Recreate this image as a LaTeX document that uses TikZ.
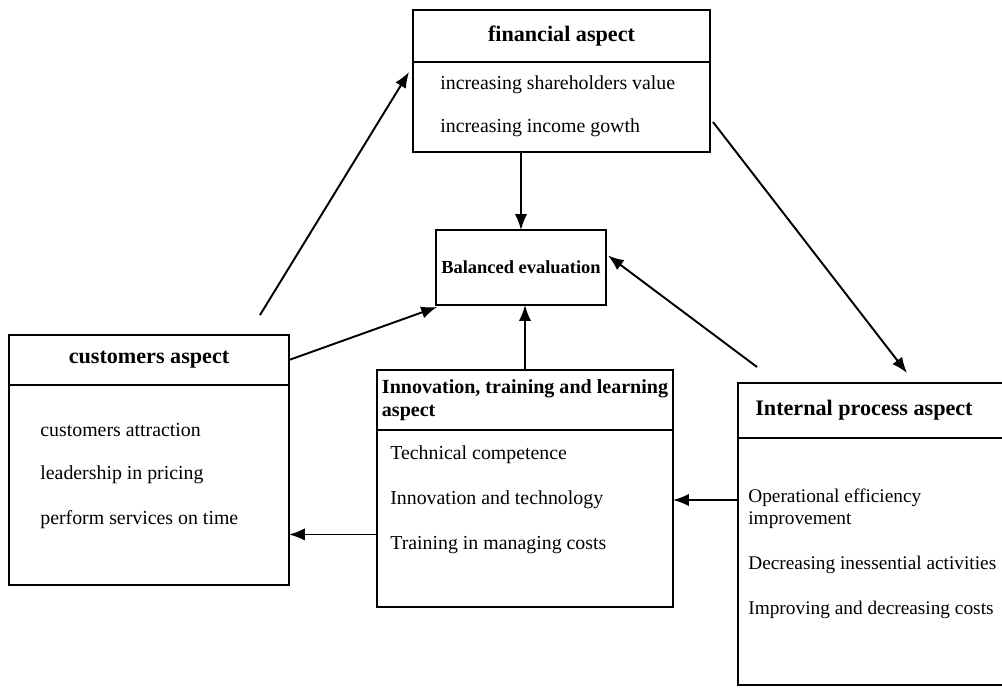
\documentclass[tikz,border=0pt]{standalone}
\usepackage{fontspec}
\setmainfont{Liberation Serif}
\usetikzlibrary{arrows.meta}

\begin{document}
\begin{tikzpicture}[x=0.02cm,y=-0.02cm,>={Latex[length=9pt,width=7pt]},
  box/.style={draw,line width=1.1pt,rectangle,inner sep=0pt,outer sep=0pt},
  head/.style={font=\bfseries\fontsize{12.6}{14}\selectfont},
  item/.style={anchor=west,inner sep=0pt,font=\fontsize{11.3}{12.6}\selectfont},
  conn/.style={->,line width=1.1pt}]
\useasboundingbox (0,0) rectangle (1002,690);
\clip (0,0) rectangle (1002,690);
% financial
\node[box,head,minimum width=5.94cm,minimum height=1.04cm] (fintitle) at (561.5,36) {financial aspect};
\node[box,minimum width=5.94cm,minimum height=1.8cm,anchor=north] (finbody) at (fintitle.south) {};
\node[item] (fin1) at (440,85) {increasing shareholders value};
\node[item] (fin2) at (440,128) {increasing income gowth};
% balanced
\node[box,minimum width=3.4cm,minimum height=1.5cm,font=\bfseries\fontsize{10.5}{12}\selectfont] (bal) at (521,267.5) {Balanced evaluation};
% customers
\node[box,head,minimum width=5.6cm,minimum height=1cm] (custitle) at (149,360) {customers aspect};
\node[box,minimum width=5.6cm,minimum height=4cm,anchor=north] (cusbody) at (custitle.south) {};
\node[item] (cus1) at (40,430) {customers attraction};
\node[item] (cus2) at (40,475) {leadership in pricing};
\node[item] (cus3) at (40,520) {perform services on time};
% innovation
\node[box,minimum width=5.92cm,minimum height=1.2cm,align=left,font=\bfseries\fontsize{11.4}{13}\selectfont] (inntitle) at (525,400) {Innovation, training and learning\\aspect};
\node[box,minimum width=5.92cm,minimum height=3.54cm,anchor=north] (innbody) at (inntitle.south) {};
\node[item] (inn1) at (390,455) {Technical competence};
\node[item] (inn2) at (390,500) {Innovation and technology};
\node[item] (inn3) at (390,545) {Training in managing costs};
% internal process
\node[box,minimum width=5.84cm,minimum height=1.1cm] (inttitle) at (884,410.5) {};
\node[head,anchor=west,inner sep=0pt] (inthead) at (755,410) {Internal process aspect};
\node[box,minimum width=5.84cm,minimum height=4.94cm,anchor=north] (intbody) at (inttitle.south) {};
\node[item,align=left,font=\fontsize{11}{12.6}\selectfont] (int1) at (748,509) {Operational efficiency\\improvement};
\node[item,font=\fontsize{11}{12.6}\selectfont] (int2) at (748,565) {Decreasing inessential activities};
\node[item,font=\fontsize{11}{12.6}\selectfont] (int3) at (748,610) {Improving and decreasing costs};
% connectors
\coordinate (cusup) at (260,315);
\coordinate (intup) at (757,367);
\coordinate (innout) at ([yshift=-0.32cm]innbody.west);
\draw[conn] (finbody.south -| bal.north) -- (bal.north);
\draw[conn] (cusup) -- ([shift={(-4,10)}]finbody.north west);
\draw[conn] ([shift={(3,15)}]finbody.east) -- ([shift={(169,-10)}]inttitle.north west);
\draw[conn] (custitle.east) -- ([shift={(1,2)}]bal.south west);
\draw[conn] (inntitle.north) -- (inntitle.north |- bal.south);
\draw[conn] (intup) -- ([shift={(2,-12)}]bal.east);
\draw[conn] (intbody.west |- inn2) -- (innbody.east |- inn2);
\draw[conn] (innout) -- (innout -| cusbody.east);
\end{tikzpicture}
\end{document}
